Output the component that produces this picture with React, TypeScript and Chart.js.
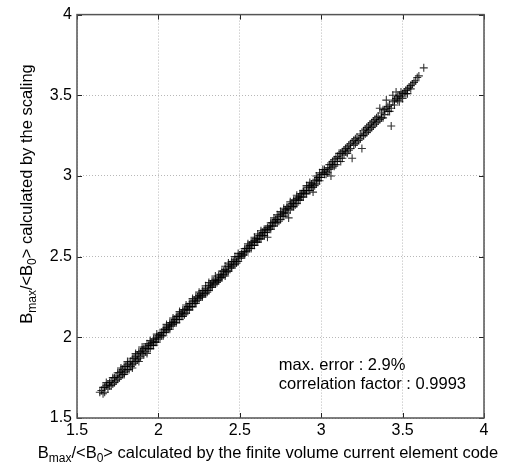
import React, { useEffect, useRef } from "react";
import { Chart, registerables } from "chart.js";

Chart.register(...registerables);

// B_max/<B_0> calculated by the finite volume current element code
const xValues = [
  1.64, 1.65, 1.66, 1.67, 1.68, 1.69, 1.70, 1.70, 1.71, 1.72,
  1.73, 1.73, 1.74, 1.75, 1.76, 1.76, 1.77, 1.78, 1.78, 1.79,
  1.80, 1.80,
  1.81, 1.81, 1.82, 1.83, 1.83, 1.84, 1.85, 1.85, 1.86, 1.87,
  1.87, 1.88, 1.89, 1.89, 1.90, 1.90, 1.91, 1.92, 1.92, 1.93,
  1.94, 1.94, 1.95, 1.96, 1.96, 1.97, 1.98, 1.98, 1.99, 2.00,
  2.00,
  2.01, 2.02, 2.02, 2.03, 2.04, 2.04, 2.05, 2.06, 2.06, 2.07,
  2.08, 2.08, 2.09, 2.10, 2.10, 2.11, 2.12, 2.12, 2.13, 2.14,
  2.14, 2.15, 2.16, 2.16, 2.17, 2.18, 2.18, 2.19, 2.20, 2.20,
  2.21, 2.22, 2.22, 2.23, 2.24, 2.24, 2.25, 2.26, 2.26, 2.27,
  2.28, 2.28, 2.29, 2.30, 2.30, 2.31, 2.32, 2.32, 2.33, 2.34,
  2.34, 2.35, 2.36, 2.36, 2.37, 2.38, 2.38, 2.39, 2.40, 2.40,
  2.41, 2.42, 2.42, 2.43, 2.44, 2.44, 2.45, 2.46, 2.46, 2.47,
  2.48, 2.48, 2.49, 2.50, 2.50,
  2.51, 2.52, 2.52, 2.53, 2.54, 2.54, 2.55, 2.56, 2.56, 2.57,
  2.58, 2.58, 2.59, 2.60, 2.60, 2.61, 2.62, 2.62, 2.63, 2.64,
  2.64, 2.65, 2.66, 2.66, 2.67, 2.67, 2.68, 2.68, 2.69, 2.70,
  2.70, 2.71, 2.72, 2.72, 2.73, 2.74, 2.74, 2.75, 2.76, 2.76,
  2.77, 2.78, 2.78, 2.79, 2.80, 2.80, 2.81, 2.82, 2.82, 2.83,
  2.84, 2.84, 2.85, 2.86, 2.86, 2.87, 2.88, 2.88, 2.89, 2.90,
  2.90, 2.91, 2.92, 2.92, 2.93, 2.94, 2.94, 2.95, 2.95, 2.96,
  2.96, 2.97, 2.98, 2.98, 2.99, 3.00, 3.00,
  3.01, 3.02, 3.02, 3.03, 3.04, 3.04, 3.05, 3.06, 3.06, 3.06,
  3.07, 3.08, 3.08, 3.09, 3.10, 3.10, 3.11, 3.12, 3.12, 3.13,
  3.14, 3.14, 3.15, 3.16, 3.16, 3.17, 3.18, 3.19, 3.19, 3.20,
  3.21, 3.21, 3.22, 3.23, 3.24, 3.25, 3.25, 3.26, 3.27, 3.28,
  3.28, 3.29, 3.30, 3.31, 3.31, 3.32, 3.33, 3.34, 3.35, 3.35,
  3.36, 3.36, 3.37, 3.38, 3.38, 3.39, 3.40, 3.40, 3.41, 3.42,
  3.43, 3.43, 3.44, 3.44, 3.45, 3.46, 3.46, 3.47, 3.48, 3.48,
  3.49, 3.50, 3.50, 3.51, 3.52, 3.53, 3.54, 3.55, 3.56, 3.57,
  3.58, 3.59, 3.60, 3.63,
  // second pass through the cloud (band edges)
  1.66, 1.67, 1.68, 1.69, 1.71, 1.72, 1.74, 1.75, 1.77, 1.77,
  1.79, 1.79, 1.81, 1.82, 1.84, 1.84, 1.86, 1.86, 1.88, 1.88,
  1.90, 1.91, 1.93, 1.93, 1.95, 1.95, 1.97, 1.97, 1.99, 1.99,
  2.01, 2.03, 2.03, 2.05, 2.05, 2.07, 2.07, 2.09, 2.09, 2.11,
  2.11, 2.13, 2.13, 2.15, 2.15, 2.17, 2.17, 2.19, 2.19, 2.21,
  2.21, 2.23, 2.23, 2.25, 2.25, 2.27, 2.27, 2.29, 2.29, 2.31,
  2.31, 2.33, 2.33, 2.35, 2.35, 2.37, 2.37, 2.39, 2.39, 2.41,
  2.41, 2.43, 2.43, 2.45, 2.45, 2.47, 2.47, 2.49, 2.49,
  2.51, 2.53, 2.53, 2.55, 2.55, 2.57, 2.57, 2.59, 2.59, 2.61,
  2.61, 2.63, 2.63, 2.65, 2.65, 2.67, 2.69, 2.69, 2.71, 2.71,
  2.73, 2.73, 2.75, 2.75, 2.77, 2.77, 2.79, 2.79, 2.81, 2.81,
  2.83, 2.83, 2.85, 2.85, 2.87, 2.87, 2.89, 2.89, 2.91, 2.91,
  2.93, 2.93, 2.95, 2.97, 2.97, 2.99, 2.99,
  3.01, 3.03, 3.05, 3.07, 3.09, 3.11, 3.13, 3.15, 3.17, 3.18,
  3.20, 3.22, 3.24, 3.26, 3.27, 3.29, 3.30, 3.32, 3.33, 3.34,
  3.37, 3.39, 3.41, 3.42, 3.45, 3.47, 3.49, 3.52, 3.53, 3.55,
];

// B_max/<B_0> calculated by the scaling
const yValues = [
  1.66, 1.67, 1.65, 1.69, 1.70, 1.68, 1.72, 1.70, 1.73, 1.71,
  1.75, 1.72, 1.76, 1.74, 1.78, 1.75, 1.79, 1.77, 1.80, 1.78,
  1.82, 1.79,
  1.83, 1.80, 1.84, 1.82, 1.85, 1.83, 1.87, 1.84, 1.88, 1.86,
  1.89, 1.87, 1.91, 1.88, 1.92, 1.90, 1.93, 1.91, 1.94, 1.93,
  1.95, 1.93, 1.96, 1.95, 1.97, 1.97, 1.99, 1.97, 2.00, 2.01,
  1.99,
  2.02, 2.01, 2.03, 2.03, 2.05, 2.03, 2.06, 2.05, 2.07, 2.07,
  2.09, 2.07, 2.10, 2.09, 2.11, 2.11, 2.13, 2.11, 2.14, 2.13,
  2.15, 2.15, 2.17, 2.14, 2.18, 2.17, 2.19, 2.19, 2.21, 2.19,
  2.22, 2.21, 2.23, 2.22, 2.25, 2.23, 2.26, 2.25, 2.27, 2.26,
  2.29, 2.27, 2.30, 2.29, 2.28, 2.32, 2.31, 2.33, 2.32, 2.35,
  2.33, 2.36, 2.35, 2.34, 2.38, 2.37, 2.39, 2.38, 2.41, 2.39,
  2.42, 2.41, 2.40, 2.44, 2.43, 2.45, 2.44, 2.47, 2.45, 2.48,
  2.47, 2.46, 2.50, 2.49, 2.51,
  2.52, 2.51, 2.53, 2.53, 2.55, 2.53, 2.56, 2.55, 2.57, 2.57,
  2.59, 2.57, 2.60, 2.59, 2.61, 2.61, 2.63, 2.61, 2.64, 2.63,
  2.65, 2.65, 2.67, 2.65, 2.62, 2.68, 2.67, 2.69, 2.69, 2.71,
  2.69, 2.72, 2.71, 2.73, 2.73, 2.75, 2.72, 2.76, 2.75, 2.77,
  2.77, 2.79, 2.77, 2.80, 2.74, 2.80, 2.82, 2.81, 2.83, 2.83,
  2.85, 2.82, 2.86, 2.85, 2.87, 2.87, 2.89, 2.87, 2.90, 2.89,
  2.91, 2.91, 2.93, 2.91, 2.94, 2.93, 2.95, 2.95, 2.90, 2.97,
  2.94, 2.98, 2.97, 2.99, 2.99, 3.01, 2.99,
  3.02, 3.01, 3.04, 3.03, 3.05, 3.02, 3.07, 3.05, 3.00, 3.08,
  3.07, 3.10, 3.06, 3.11, 3.09, 3.12, 3.11, 3.14, 3.09, 3.15,
  3.13, 3.16, 3.15, 3.18, 3.14, 3.19, 3.17, 3.11, 3.21, 3.19,
  3.23, 3.20, 3.24, 3.22, 3.26, 3.17, 3.25, 3.28, 3.26, 3.30,
  3.27, 3.31, 3.29, 3.33, 3.30, 3.34, 3.32, 3.36, 3.34, 3.37,
  3.35, 3.42, 3.39, 3.36, 3.41, 3.38, 3.42, 3.47, 3.40, 3.44,
  3.31, 3.42, 3.46, 3.50, 3.44, 3.48, 3.52, 3.47, 3.46, 3.50,
  3.49, 3.51, 3.48, 3.52, 3.51, 3.54, 3.55, 3.54, 3.57, 3.58,
  3.59, 3.61, 3.62, 3.67,
  // second pass through the cloud (band edges)
  1.69, 1.66, 1.72, 1.71, 1.70, 1.75, 1.73, 1.78, 1.76, 1.81,
  1.82, 1.77, 1.85, 1.80, 1.87, 1.81, 1.85, 1.90, 1.91, 1.85,
  1.94, 1.89, 1.96, 1.90, 1.98, 1.93, 1.99, 1.95, 2.02, 1.97,
  2.00, 2.05, 2.01, 2.04, 2.08, 2.05, 2.09, 2.08, 2.12, 2.09,
  2.13, 2.11, 2.16, 2.13, 2.17, 2.15, 2.20, 2.17, 2.21, 2.19,
  2.24, 2.21, 2.25, 2.24, 2.28, 2.25, 2.29, 2.27, 2.32, 2.29,
  2.34, 2.31, 2.35, 2.33, 2.38, 2.35, 2.36, 2.37, 2.41, 2.38,
  2.44, 2.41, 2.46, 2.43, 2.47, 2.45, 2.50, 2.47, 2.52,
  2.50, 2.55, 2.51, 2.54, 2.58, 2.55, 2.59, 2.57, 2.62, 2.59,
  2.64, 2.61, 2.66, 2.63, 2.67, 2.66, 2.67, 2.71, 2.69, 2.74,
  2.71, 2.76, 2.73, 2.78, 2.75, 2.80, 2.77, 2.81, 2.79, 2.84,
  2.81, 2.85, 2.83, 2.88, 2.85, 2.89, 2.87, 2.91, 2.89, 2.94,
  2.91, 2.96, 2.93, 2.95, 3.00, 2.97, 3.02,
  3.04, 3.01, 3.04, 3.09, 3.07, 3.14, 3.11, 3.17, 3.16, 3.20,
  3.22, 3.21, 3.23, 3.25, 3.29, 3.28, 3.32, 3.31, 3.35, 3.33,
  3.36, 3.41, 3.43, 3.40, 3.47, 3.49, 3.52, 3.53, 3.51, 3.56,
];

const xTickValues = [1.5, 2, 2.5, 3, 3.5, 4];
const yTickValues = [1.5, 2, 2.5, 3, 3.5, 4];
const annotationLines = ["max. error : 2.9%", "correlation factor : 0.9993"];
const annotationX = 2.74;
const annotationY = [1.796, 1.679];

type Part = [string, boolean];
const xTitleParts: Part[] = [
  ["B", false],
  ["max", true],
  ["/<B", false],
  ["0", true],
  ["> calculated by the finite volume current element code", false],
];
const yTitleParts: Part[] = [
  ["B", false],
  ["max", true],
  ["/<B", false],
  ["0", true],
  ["> calculated by the scaling", false],
];

const FONT = "'Liberation Sans', Arial, Helvetica, sans-serif";
const TICK_SIZE = 16;
const TEXT_SIZE = 16.5;

function drawRich(ctx: CanvasRenderingContext2D, parts: Part[], cx: number, baseY: number, size: number) {
  const subSize = Math.round(size * 0.72);
  const widths = parts.map(([t, sub]) => {
    ctx.font = `${sub ? subSize : size}px ${FONT}`;
    return ctx.measureText(t).width;
  });
  const total = widths.reduce((a, b) => a + b, 0);
  let x = cx - total / 2;
  ctx.textAlign = "left";
  ctx.textBaseline = "alphabetic";
  parts.forEach(([t, sub], i) => {
    ctx.font = `${sub ? subSize : size}px ${FONT}`;
    ctx.fillText(t, x, baseY + (sub ? 4 : 0));
    x += widths[i];
  });
}

const decorPlugin = {
  id: "decor",
  afterDraw(chart: any) {
    const { ctx, chartArea, scales } = chart;
    const { left, right, top, bottom } = chartArea;
    const xs = scales.x;
    const ys = scales.y;
    ctx.save();
    // inward tick marks on all sides
    ctx.strokeStyle = "#222";
    ctx.lineWidth = 1;
    ctx.beginPath();
    xTickValues.forEach((v) => {
      const px = Math.round(xs.getPixelForValue(v)) + 0.5;
      ctx.moveTo(px, bottom);
      ctx.lineTo(px, bottom - 5);
      ctx.moveTo(px, top);
      ctx.lineTo(px, top + 5);
    });
    yTickValues.forEach((v) => {
      const py = Math.round(ys.getPixelForValue(v)) + 0.5;
      ctx.moveTo(left, py);
      ctx.lineTo(left + 5, py);
      ctx.moveTo(right, py);
      ctx.lineTo(right - 5, py);
    });
    ctx.stroke();
    // frame
    ctx.strokeStyle = "#555";
    ctx.lineWidth = 1.5;
    ctx.strokeRect(left, top, right - left, bottom - top);

    // annotation text
    ctx.fillStyle = "#000";
    ctx.font = `${TEXT_SIZE}px ${FONT}`;
    ctx.textAlign = "left";
    ctx.textBaseline = "alphabetic";
    annotationLines.forEach((line, i) => {
      ctx.fillText(line, xs.getPixelForValue(annotationX), ys.getPixelForValue(annotationY[i]));
    });

    // axis titles
    drawRich(ctx, xTitleParts, 268, 458, TEXT_SIZE);
    ctx.translate(32, 194);
    ctx.rotate(-Math.PI / 2);
    drawRich(ctx, yTitleParts, 0, 0, TEXT_SIZE);
    ctx.restore();
  },
};

export default function App() {
  const canvasRef = useRef<HTMLCanvasElement | null>(null);

  useEffect(() => {
    if (!canvasRef.current) return;
    const points = xValues.map((x, i) => ({ x, y: yValues[i] }));
    const chart = new Chart(canvasRef.current, {
      type: "scatter",
      data: {
        datasets: [
          {
            data: points,
            pointStyle: "cross",
            pointRadius: 4,
            pointBorderWidth: 1.1,
            borderColor: "rgba(0,0,0,0.8)",
            backgroundColor: "rgba(0,0,0,0.8)",
            pointHoverRadius: 4,
          },
        ],
      },
      options: {
        responsive: false,
        animation: false,
        devicePixelRatio: 1,
        layout: { padding: { left: 0, top: 13, right: 28, bottom: 0 } },
        plugins: { legend: { display: false }, tooltip: { enabled: false } },
        scales: {
          x: {
            type: "linear",
            min: 1.5,
            max: 4,
            afterBuildTicks: (scale: any) => {
              scale.ticks = xTickValues.map((value) => ({ value }));
            },
            afterFit: (scale: any) => {
              scale.height = 47;
            },
            grid: { color: "#b8b8b8", drawTicks: false, lineWidth: 1 },
            border: { display: false, dash: [1, 2] },
            ticks: {
              padding: 3,
              color: "#000",
              font: { family: FONT, size: TICK_SIZE },
              maxRotation: 0,
              autoSkip: false,
              callback: (v: any) => String(v),
            },
          },
          y: {
            type: "linear",
            min: 1.5,
            max: 4,
            afterBuildTicks: (scale: any) => {
              scale.ticks = yTickValues.map((value) => ({ value }));
            },
            afterFit: (scale: any) => {
              scale.width = 77;
            },
            grid: { color: "#b8b8b8", drawTicks: false, lineWidth: 1 },
            border: { display: false, dash: [1, 2] },
            ticks: {
              padding: 5,
              color: "#000",
              font: { family: FONT, size: TICK_SIZE },
              autoSkip: false,
              callback: (v: any) => String(v),
            },
          },
        },
      },
      plugins: [decorPlugin],
    });
    return () => chart.destroy();
  }, []);

  return (
    <div style={{ position: "fixed", left: 0, top: 0, width: 512, height: 465, background: "#fff" }}>
      <canvas ref={canvasRef} width={512} height={465} style={{ width: 512, height: 465 }} />
    </div>
  );
}
